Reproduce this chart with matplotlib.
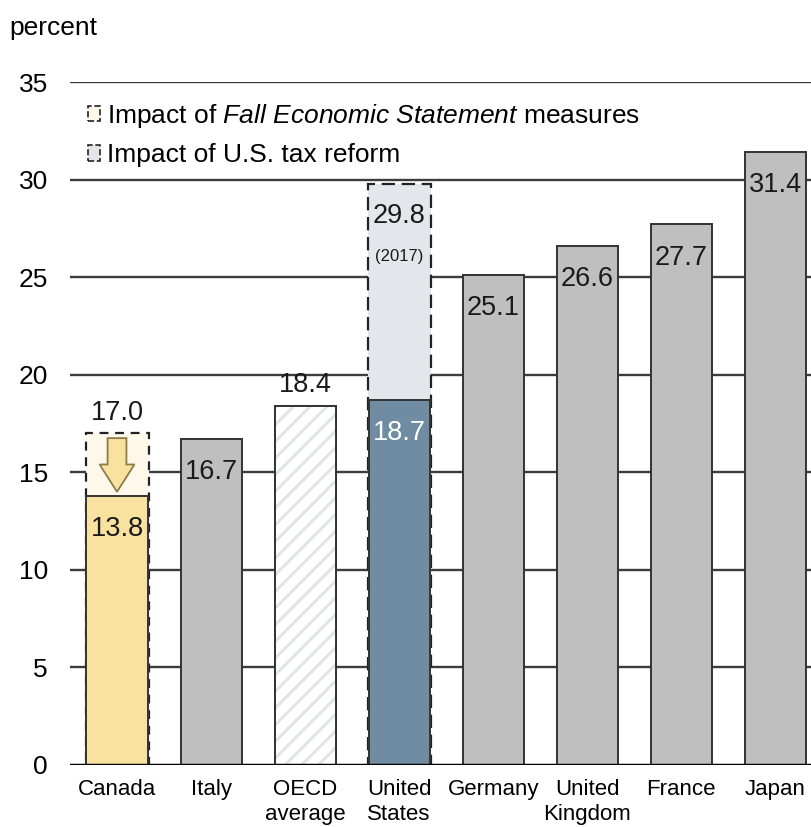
import numpy as np
import matplotlib.pyplot as plt
from matplotlib.patches import Patch, FancyArrow

plt.rcParams['font.family'] = ['Liberation Sans', 'DejaVu Sans']
plt.rcParams['mathtext.fontset'] = 'custom'
plt.rcParams['mathtext.it'] = 'Liberation Sans:italic'
plt.rcParams['mathtext.rm'] = 'Liberation Sans'
plt.rcParams['hatch.linewidth'] = 2.2

# data
countries = ['Canada', 'Italy', 'OECD\naverage', 'United\nStates', 'Germany',
             'United\nKingdom', 'France', 'Japan']
rates = [13.8, 16.7, 18.4, 18.7, 25.1, 26.6, 27.7, 31.4]
canada_before = 17.0
us_before = 29.8
us_before_year = '(2017)'
yticks = [0, 5, 10, 15, 20, 25, 30, 35]

gold = '#F9E1A0'
gray = '#BFBFBF'
blue = '#6F8CA3'
dark = '#333333'
hatch_col = '#E1E5EA'

fig = plt.figure(figsize=(8.12, 8.27), dpi=100)
ax = fig.add_axes([0.0862, 0.075, 0.9138, 0.8258])

x = np.arange(len(countries))
w = 0.67

# gridlines
for t in yticks[1:]:
    ax.axhline(t, color='#3C3C3C', lw=1.7, zorder=0)

# dashed "before" boxes
ax.bar(0, canada_before, w, color='#FEF8EA', edgecolor='#222222',
       linestyle=(0, (4, 3)), lw=1.6, zorder=1)
ax.bar(3, us_before, w, color='#E3E7EB', edgecolor='#222222',
       linestyle=(0, (6, 3)), lw=1.6, zorder=1)

colors = [gold, gray, 'white', blue, gray, gray, gray, gray]
ax.bar(x, rates, w * 0.97, color=colors, edgecolor=dark, lw=1.4, zorder=2)
# OECD bar: light hatch, dark outline
ax.bar(x[2], rates[2], w * 0.97, color='white', edgecolor=hatch_col, hatch='//', lw=0, zorder=2)
ax.bar(x[2], rates[2], w * 0.97, fill=False, edgecolor=dark, lw=1.4, zorder=2)

# axis line at zero
ax.axhline(0, color='black', lw=2.5, zorder=3)

# arrow for Canada
arr = FancyArrow(0, canada_before - 0.25, 0, -(canada_before - 0.25 - rates[0] - 0.2),
                 width=0.2, head_width=0.37, head_length=1.4,
                 length_includes_head=True, facecolor=gold, edgecolor='#8C7A4A',
                 lw=1.3, zorder=3)
ax.add_patch(arr)

# value labels
fs = 19.5
txt = '#1A1A1A'
for i, v in enumerate(rates):
    if i == 2:
        ax.text(i, v + 1.05, f'{v:.1f}', ha='center', va='center', fontsize=fs, color=txt)
    else:
        c = 'white' if i == 3 else txt
        ax.text(i, v - 1.7, f'{v:.1f}', ha='center', va='center', fontsize=fs, color=c, zorder=4)
ax.text(0, canada_before + 1.05, f'{canada_before:.1f}', ha='center', va='center',
        fontsize=fs, color=txt)
ax.text(3, us_before - 1.65, f'{us_before:.1f}', ha='center', va='center', fontsize=fs, color=txt)
ax.text(3, us_before - 3.76, us_before_year, ha='center', va='center', fontsize=12, color=txt)

ax.set_xlim(-0.5, 7.39)
ax.set_ylim(0, 35)
ax.set_yticks(yticks)
ax.set_yticklabels([str(t) for t in yticks], fontsize=19)
ax.set_xticks(x)
ax.set_xticklabels(countries, fontsize=16, linespacing=1.25)
ax.tick_params(axis='y', length=0, pad=16)
ax.tick_params(axis='x', length=0, pad=10)
for s in ax.spines.values():
    s.set_visible(False)

fig.text(0.012, 0.966, 'percent', fontsize=19, ha='left', va='center')

handles = [Patch(facecolor='#FEF8EA', edgecolor='#222222', linestyle='--', lw=1.2),
           Patch(facecolor='#E3E7EB', edgecolor='#222222', linestyle='--', lw=1.2)]
labels = ['Impact of $\\it{Fall\\ Economic\\ Statement}$ measures',
          'Impact of U.S. tax reform']
ax.legend(handles, labels, loc='upper left', bbox_to_anchor=(0.0, 0.998), frameon=False,
          fontsize=19, handlelength=0.45, handleheight=0.55, handletextpad=0.25,
          labelspacing=0.5, borderaxespad=0.3)

fig.savefig('out.png', dpi=100)
